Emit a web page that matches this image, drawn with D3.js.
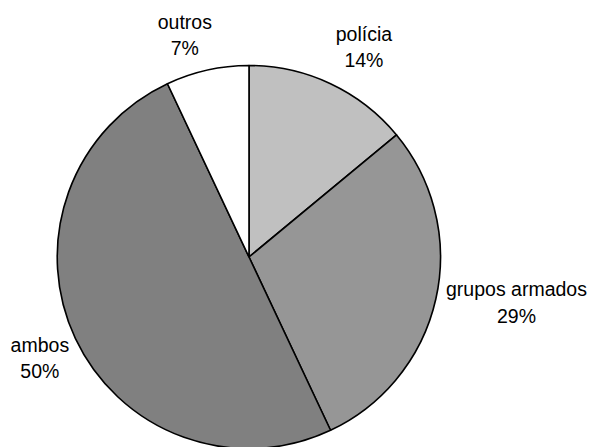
<!DOCTYPE html>
<html>
<head>
<meta charset="utf-8">
<script src="https://cdn.jsdelivr.net/npm/d3@7"></script>
<style>
  html, body { margin: 0; padding: 0; background: #ffffff; }
  svg { display: block; }
</style>
</head>
<body>
<svg id="chart" width="591" height="447"></svg>
<script>
// Data
const categories = ["polícia", "grupos armados", "ambos", "outros"];
const values = [14, 29, 50, 7];
const percentLabels = ["14%", "29%", "50%", "7%"];
const colors = ["#c0c0c0", "#969696", "#808080", "#ffffff"];

// Layout
const width = 591, height = 447;
const cx = 249, cy = 257, radius = 191.5;
const labelRadius = 230;
const labelNudge = { "polícia": [17, -1], "grupos armados": [43, -4], "ambos": [-1, 4], "outros": [-14, 3] };

const svg = d3.select("#chart");
const g = svg.append("g").attr("transform", `translate(${cx},${cy})`);

const data = categories.map((c, i) => ({ cat: c, value: values[i], pct: percentLabels[i], color: colors[i] }));

const pie = d3.pie().value(d => d.value).sort(null);
const arc = d3.arc().innerRadius(0).outerRadius(radius);
const arcs = pie(data);

g.selectAll("path.slice")
  .data(arcs)
  .enter().append("path")
  .attr("class", "slice")
  .attr("d", arc)
  .attr("fill", d => d.data.color)
  .attr("stroke", "#000")
  .attr("stroke-width", 1.6)
  .attr("stroke-linejoin", "round");

const labels = g.selectAll("g.label")
  .data(arcs)
  .enter().append("g")
  .attr("class", "label")
  .attr("transform", d => {
    const a = (d.startAngle + d.endAngle) / 2;
    const n = labelNudge[d.data.cat] || [0, 0];
    const x = Math.sin(a) * labelRadius + n[0];
    const y = -Math.cos(a) * labelRadius + n[1];
    return `translate(${x},${y})`;
  });

labels.append("text")
  .attr("text-anchor", "middle")
  .attr("y", -7)
  .attr("font-family", "'Liberation Sans', Arial, sans-serif")
  .attr("font-size", 19.5)
  .attr("fill", "#000")
  .text(d => d.data.cat);

labels.append("text")
  .attr("text-anchor", "middle")
  .attr("y", 19.5)
  .attr("font-family", "'Liberation Sans', Arial, sans-serif")
  .attr("font-size", 19.5)
  .attr("fill", "#000")
  .text(d => d.data.pct);
</script>
</body>
</html>
